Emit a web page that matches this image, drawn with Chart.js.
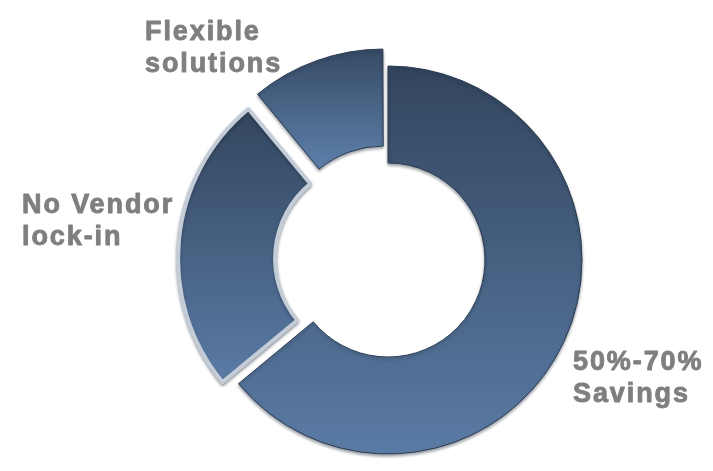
<!DOCTYPE html>
<html>
<head>
<meta charset="utf-8">
<script src="https://cdn.jsdelivr.net/npm/chart.js@4.4.1/dist/chart.umd.min.js"></script>
<style>
  html, body { margin: 0; padding: 0; background: #ffffff; }
  #wrap { width: 713px; height: 471px; position: relative; }
</style>
</head>
<body>
<div id="wrap"><canvas id="c"></canvas></div>
<script>
// ---- data ----
const categories = ['50%-70% Savings', 'No Vendor lock-in', 'Flexible solutions'];
const shares = [64, 25, 11];
const labelLines = [['50%-70%', 'Savings'], ['No Vendor', 'lock-in'], ['Flexible', 'solutions']];

// ---- styling ----
const segOffsets = [0, 64, 52];
const segBorderWidths = [1, 4, 1];
const segBorderColors = ['#2c3c52', '#c4cdd7', '#2c3c52'];
const gradTop = '#32455d';
const gradBottom = '#5a7ba5';
const outerR = 194;
const labelAnchors = [[573, 370], [22, 213], [145, 40]];

function segmentGradient(context) {
  const chart = context.chart;
  const area = chart.chartArea;
  if (!area) return gradBottom;
  const i = context.dataIndex;
  const data = context.dataset.data;
  const total = data.reduce((a, b) => a + b, 0);
  let before = 0;
  for (let k = 0; k < i; k++) before += data[k];
  const a0 = -Math.PI / 2 + before / total * 2 * Math.PI;
  const a1 = a0 + data[i] / total * 2 * Math.PI;
  const circ = a1 - a0;
  const half = (a0 + a1) / 2;
  const o = segOffsets[i] / 4;
  const fix = 1 - Math.sin(Math.min(Math.PI, circ));
  const cy = (area.top + area.bottom) / 2 + Math.sin(half) * o;
  const dr = o * fix;
  const radii = [outerR + dr, outerR / 2 + dr];
  let minY = Infinity, maxY = -Infinity;
  for (let s = 0; s <= 60; s++) {
    const t = a0 + circ * s / 60;
    for (const r of radii) {
      const y = cy + r * Math.sin(t);
      if (y < minY) minY = y;
      if (y > maxY) maxY = y;
    }
  }
  const g = chart.ctx.createLinearGradient(0, minY, 0, maxY);
  g.addColorStop(0, gradTop);
  g.addColorStop(1, gradBottom);
  return g;
}

const shadowPlugin = {
  id: 'shadow',
  beforeDatasetsDraw(chart) {
    const ctx = chart.ctx;
    ctx.save();
    ctx.shadowColor = 'rgba(20,30,45,0.40)';
    ctx.shadowBlur = 3;
    ctx.shadowOffsetX = 0;
    ctx.shadowOffsetY = 2;
  },
  afterDatasetsDraw(chart) {
    chart.ctx.restore();
  }
};

const labelPlugin = {
  id: 'sliceLabels',
  afterDraw(chart) {
    const ctx = chart.ctx;
    ctx.save();
    ctx.fillStyle = '#7f7f7f';
    ctx.strokeStyle = '#7f7f7f';
    ctx.lineWidth = 0.9;
    ctx.lineJoin = 'round';
    ctx.font = 'bold 27px "Liberation Sans", Arial, sans-serif';
    ctx.textAlign = 'left';
    ctx.textBaseline = 'alphabetic';
    try { ctx.letterSpacing = '1.9px'; } catch (e) {}
    labelLines.forEach((lines, i) => {
      const [x, y] = labelAnchors[i];
      lines.forEach((line, j) => {
        ctx.fillText(line, x, y + j * 32);
        ctx.strokeText(line, x, y + j * 32);
      });
    });
    ctx.restore();
  }
};

new Chart(document.getElementById('c'), {
  type: 'doughnut',
  data: {
    labels: categories,
    datasets: [{
      data: shares,
      backgroundColor: segmentGradient,
      borderColor: segBorderColors,
      borderWidth: segBorderWidths,
      offset: segOffsets,
      hoverOffset: 0,
      borderJoinStyle: 'round'
    }]
  },
  options: {
    responsive: true,
    maintainAspectRatio: false,
    animation: false,
    events: [],
    cutout: '50%',
    radius: outerR,
    layout: { padding: { left: 63, right: 0, top: 49, bottom: 0 } },
    plugins: {
      legend: { display: false },
      tooltip: { enabled: false }
    }
  },
  plugins: [shadowPlugin, labelPlugin]
});
</script>
</body>
</html>
